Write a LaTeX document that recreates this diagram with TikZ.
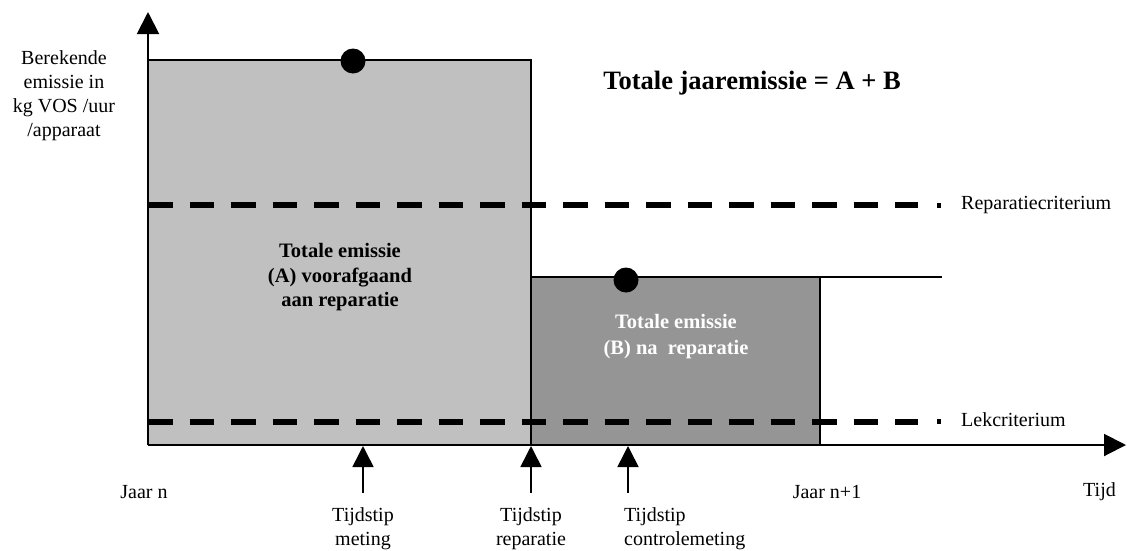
\documentclass[tikz,border=0pt]{standalone}
\usepackage{fontspec}
\setmainfont{Liberation Serif}
\usetikzlibrary{arrows.meta}
\definecolor{grayA}{HTML}{C0C0C0}
\definecolor{grayB}{HTML}{959595}
\begin{document}
\begin{tikzpicture}[x=1pt,y=-1pt,
  lbl/.style={inner sep=0pt,font=\fontsize{20}{24}\selectfont},
  boldlbl/.style={inner sep=0pt,align=center,font=\fontsize{20.5}{24.5}\selectfont\bfseries},
  titlelbl/.style={inner sep=0pt,font=\fontsize{26.5}{30}\selectfont\bfseries},
  edge/.style={line width=1.8pt},
  axisline/.style={line width=2pt,-{Triangle[width=22pt,length=22pt]}},
  uparrow/.style={line width=1.6pt,-{Triangle[width=21pt,length=21pt]}},
  dashline/.style={line width=6pt,dash pattern=on 24.5pt off 17pt},
  dot/.style={circle,fill=black,inner sep=0pt,minimum size=25pt}]
\useasboundingbox (0,0) rectangle (1127,550);
% coordinates
\coordinate (O) at (148,445);
\coordinate (ytop) at (148,12);
\coordinate (xend) at (1126,445);
\coordinate (A1) at (148,60);
\coordinate (A2) at (531,60);
\coordinate (A3) at (531,445);
\coordinate (B1) at (531,277);
\coordinate (B2) at (820,277);
\coordinate (B3) at (820,445);
\coordinate (B4) at (942,277);
% fills
\fill[grayA] (A1) rectangle (A3);
\fill[grayB] (B1) rectangle (B3);
% criteria lines
\coordinate (r1) at (148,205);
\coordinate (r2) at (918,205);
\coordinate (l1) at (148,421.5);
\coordinate (l2) at (918,421.5);
\draw[dashline] (r1) -- (r2);
\draw[dashline] (l1) -- (l2);
\fill (936.5,202.5) rectangle (941,207.5);
\fill (936.5,419) rectangle (941,424);
% outlines
\draw[edge] (A1) -- (A2) -- (A3);
\draw[edge] (B1) -- (B4);
\draw[edge] (B2) -- (B3);
% axes
\draw[axisline] (O) -- (ytop);
\draw[axisline] (O) -- (xend);
% dots
\node[dot] (d1) at (353,61) {};
\node[dot] (d2) at (626,280) {};
% texts
\node[lbl,align=center] (ylab) at (64,95.5) {Berekende\\emissie in\\kg VOS /uur\\/apparaat};
\node[titlelbl] (title) at (752,83) {Totale jaaremissie = A + B};
\node[boldlbl] (tA) at (340,277.5) {Totale emissie\\(A) voorafgaand\\aan reparatie};
\node[boldlbl,text=white,font=\fontsize{20.5}{26}\selectfont\bfseries] (tB) at (676,337) {Totale emissie\\(B) na\ \ reparatie};
\node[lbl,anchor=west] (rep) at (961,205) {Reparatiecriterium};
\node[lbl,anchor=west] (lek) at (961,420) {Lekcriterium};
\node[lbl] (jn) at (144,492) {Jaar n};
\node[lbl] (jn1) at (827,492) {Jaar n+1};
\node[lbl] (tijd) at (1099.5,492) {Tijd};
% time markers
\coordinate (m0) at (363,493);
\coordinate (m1) at (363,446);
\coordinate (p0) at (531,493);
\coordinate (p1) at (531,446);
\coordinate (c0) at (628,493);
\coordinate (c1) at (628,446);
\draw[uparrow] (m0) -- (m1);
\draw[uparrow] (p0) -- (p1);
\draw[uparrow] (c0) -- (c1);
\node[lbl,align=center] (tm) at (363,529) {Tijdstip\\meting};
\node[lbl,align=center] (tp) at (531,529) {Tijdstip\\reparatie};
\node[lbl,align=left,anchor=west] (tc) at (624,529) {Tijdstip\\controlemeting};
\end{tikzpicture}
\end{document}
